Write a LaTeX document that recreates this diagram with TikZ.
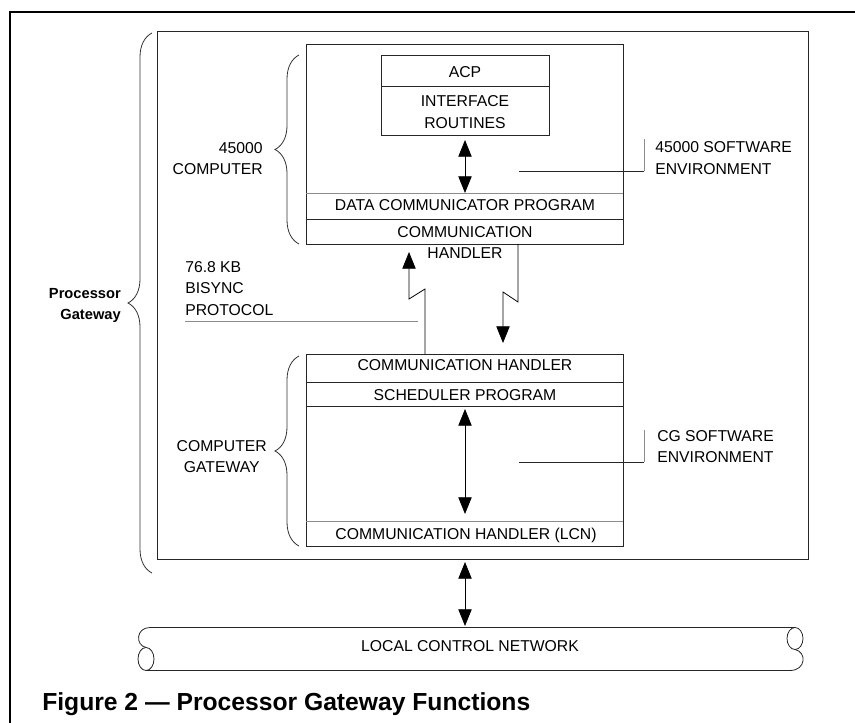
\documentclass[tikz,border=0pt]{standalone}
\usepackage{fontspec}
\setmainfont{Liberation Sans}
\usetikzlibrary{arrows.meta,decorations.pathreplacing}

\begin{document}
\begin{tikzpicture}[x=0.75pt, y=-0.75pt,
		txt/.style = {inner sep=0pt, font=\fontsize{11.8}{16}\selectfont},
		bx/.style = {draw=black!85, line width=0.6pt},
		faint/.style = {draw=black!45, line width=0.6pt},
		link/.style = {draw=black, line width=0.6pt},
		bra/.style = {decorate, decoration={brace, amplitude=18pt}, draw=black!80, line width=0.6pt},
		>={Triangle[length=12.5pt, width=10pt]}]
	\useasboundingbox (0,0) rectangle (855,723);
	\draw[line width=1.6pt] (10,723) -- (10,12) -- (855,12);
	% processor gateway
	\draw[bx] (157,31) rectangle (808,559);
	\draw[bra] (152,573) -- (152,33);
	\node[txt, font=\fontsize{11}{16}\selectfont\bfseries, align=right, anchor=east] (PG) at (121,305.5) {Processor\\Gateway};
	% 45000 computer
	\draw[bx] (306,44) rectangle (623,244);
	\draw[bx] (381,55) rectangle (549,135) (381,86) -- (549,86);
	\draw[faint] (306,193) -- (623,193);
	\draw[bx] (306,219) -- (623,219);
	\node[txt] (ACP) at (465,72.5) {ACP};
	\node[txt, align=center] (IR) at (465,112) {INTERFACE\\ROUTINES};
	\node[txt] (DCP) at (465,205.5) {DATA COMMUNICATOR PROGRAM};
	\node[txt, align=center] (CH1) at (465,242.5) {COMMUNICATION\\HANDLER};
	\draw[bra] (299,244) -- (299,55);
	\node[txt, align=right, anchor=east] (C45) at (263,158.5) {45000\\COMPUTER};
	\coordinate (A1) at (465,140);
	\coordinate (A2) at (465,193);
	\draw[link, <->] (A1) -- (A2);
	\coordinate (S1) at (519,171);
	\coordinate (S2) at (644,171);
	\coordinate (S3) at (644,139);
	\draw[bx] (S1) -- (S2);
	\draw[faint] (S2) -- (S3);
	\node[txt, align=left, anchor=west] (SW1) at (655,158) {45000 SOFTWARE\\ENVIRONMENT};
	% computer gateway
	\draw[bx] (306,354) rectangle (623,546);
	\draw[bx] (306,382) -- (623,382) (306,406) -- (623,406);
	\draw[faint] (306,521) -- (623,521);
	\node[txt] (CH2) at (465,365.5) {COMMUNICATION HANDLER};
	\node[txt] (SP) at (465,395.5) {SCHEDULER PROGRAM};
	\node[txt, anchor=base] (CH3) at (466,539) {COMMUNICATION HANDLER (LCN)};
	\draw[bra] (299,546) -- (299,356);
	\node[txt, align=center, anchor=east] (CG) at (267,456.5) {COMPUTER\\GATEWAY};
	\coordinate (B1) at (465,409);
	\coordinate (B2) at (465,514);
	\draw[link, <->] (B1) -- (B2);
	\coordinate (T1) at (519,462);
	\coordinate (T2) at (644,462);
	\coordinate (T3) at (644,430);
	\draw[bx] (T1) -- (T2);
	\draw[faint] (T2) -- (T3);
	\node[txt, align=left, anchor=west] (SW2) at (657,446.5) {CG SOFTWARE\\ENVIRONMENT};
	% bisync link
	\coordinate (U1) at (425,354);
	\coordinate (U2) at (409,252);
	\coordinate (D1) at (518,244);
	\coordinate (D2) at (503,343);
	\draw[link, ->] (U1) -- (425,289) -- (409,299) -- (U2);
	\draw[link, ->] (D1) -- (518,302) -- (503,292) -- (D2);
	\coordinate (P1) at (185,321);
	\coordinate (P2) at (418,321);
	\draw[faint] (P1) -- (P2);
	\node[txt, align=left, anchor=west] (BS) at (185,288.5) {76.8 KB\\BISYNC\\PROTOCOL};
	% local control network
	\coordinate (N1) at (465,562);
	\coordinate (N2) at (465,626);
	\draw[link, <->] (N1) -- (N2);
	\draw[bx] (150,627.5) -- (795,627.5) (146,670.5) -- (790,670.5);
	\draw[bx] (150,627.5) .. controls (136,627.5) and (135,645) .. (146,647.5);
	\draw[bx] (146,659) ellipse [x radius=8, y radius=11.5];
	\draw[bx] (795,638.5) ellipse [x radius=8, y radius=11];
	\draw[bx] (795,649.5) .. controls (807,652) and (806,670.5) .. (790,670.5);
	\node[txt] (LCN) at (470,646) {LOCAL CONTROL NETWORK};
	% caption
	\node[inner sep=0pt, anchor=base west, font=\fontsize{18.5}{22}\selectfont\bfseries] (FIG) at (42,710) {Figure 2 — Processor Gateway Functions};
\end{tikzpicture}
\end{document}
